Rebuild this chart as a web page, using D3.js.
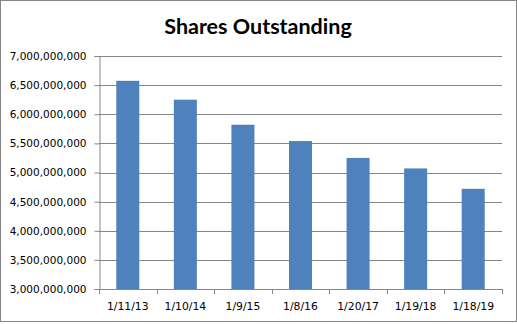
<!DOCTYPE html>
<html lang="en">
<head>
<meta charset="UTF-8">
<title>Shares Outstanding</title>
<script src="https://cdn.jsdelivr.net/npm/d3@7"></script>
<style>
  body { margin: 0; background: #fff; }
</style>
</head>
<body>
<script>
  let dates = ["1/11/13", "1/10/14", "1/9/15", "1/8/16", "1/20/17", "1/19/18", "1/18/19"]
  let shares = [6574000000, 6250000000, 5820000000, 5540000000, 5250000000, 5070000000, 4720000000]
  let yTicks = [3e9, 3.5e9, 4e9, 4.5e9, 5e9, 5.5e9, 6e9, 6.5e9, 7e9]

  let width = 517
  let height = 324
  let margin = ({ top: 56, right: 15, bottom: 35, left: 99 })

  let xsc = d3.scaleBand()
    .domain(dates)
    .range([margin.left, width - margin.right])
    .paddingInner(0.6)
    .paddingOuter(0.3)

  let ysc = d3.scaleLinear()
    .domain([3e9, 7e9])
    .range([height - margin.bottom, margin.top])

  const svg = d3.select("body").append("svg")
    .attr("width", width)
    .attr("height", height)

  // outer chart border
  svg.append("rect")
    .attr("x", 0.5).attr("y", 0.5)
    .attr("width", width - 1).attr("height", height - 3)
    .attr("fill", "#fff")
    .attr("stroke", "#868686")

  svg.append("text")
    .attr("x", 258)
    .attr("y", 34)
    .attr("text-anchor", "middle")
    .attr("font-family", "Lato, 'Open Sans', sans-serif")
    .attr("font-weight", "bold")
    .attr("font-size", 21.5)
    .text("Shares Outstanding")

  // gridlines
  svg.append("g")
    .selectAll("line")
    .data(yTicks.slice(1))
    .enter().append("line")
    .attr("x1", margin.left)
    .attr("x2", width - margin.right)
    .attr("y1", d => Math.round(ysc(d)) + 0.5)
    .attr("y2", d => Math.round(ysc(d)) + 0.5)
    .attr("stroke", "#868686")

  svg.append("g")
    .selectAll("rect")
    .data(shares)
    .enter().append("rect")
    .attr("x", (d, i) => xsc(dates[i]))
    .attr("y", d => ysc(d))
    .attr("width", xsc.bandwidth())
    .attr("height", d => ysc(3e9) - ysc(d))
    .attr("fill", "#4f81bd")

  let yAxis = g => g
    .attr("transform", `translate(${margin.left + 0.5},0)`)
    .call(d3.axisLeft(ysc).tickValues(yTicks).tickFormat(d3.format(",")).tickSizeOuter(0).tickSize(5).tickPadding(8))
    .call(g => g.selectAll("path, line").attr("stroke", "#868686"))
    .call(g => g.selectAll("text").attr("fill", "#000"))
    .attr("font-family", "'DejaVu Sans', Verdana, sans-serif")
    .attr("font-size", 10.5)

  svg.append("g").call(yAxis)

  // x axis with ticks at band boundaries
  let step = xsc.step()
  let x0 = margin.left
  let xAxisG = svg.append("g")
  xAxisG.append("line")
    .attr("x1", x0).attr("x2", width - margin.right)
    .attr("y1", ysc(3e9) + 0.5).attr("y2", ysc(3e9) + 0.5)
    .attr("stroke", "#868686")
  xAxisG.selectAll(".tk")
    .data(d3.range(dates.length + 1))
    .enter().append("line")
    .attr("x1", i => Math.round(x0 + i * step) + 0.5)
    .attr("x2", i => Math.round(x0 + i * step) + 0.5)
    .attr("y1", ysc(3e9))
    .attr("y2", ysc(3e9) + 5)
    .attr("stroke", "#868686")
  xAxisG.selectAll("text")
    .data(dates)
    .enter().append("text")
    .attr("x", d => xsc(d) + xsc.bandwidth() / 2)
    .attr("y", ysc(3e9) + 21)
    .attr("text-anchor", "middle")
    .attr("font-family", "'DejaVu Sans', Verdana, sans-serif")
    .attr("font-size", 10.8)
    .text(d => d)
</script>
</body>
</html>
